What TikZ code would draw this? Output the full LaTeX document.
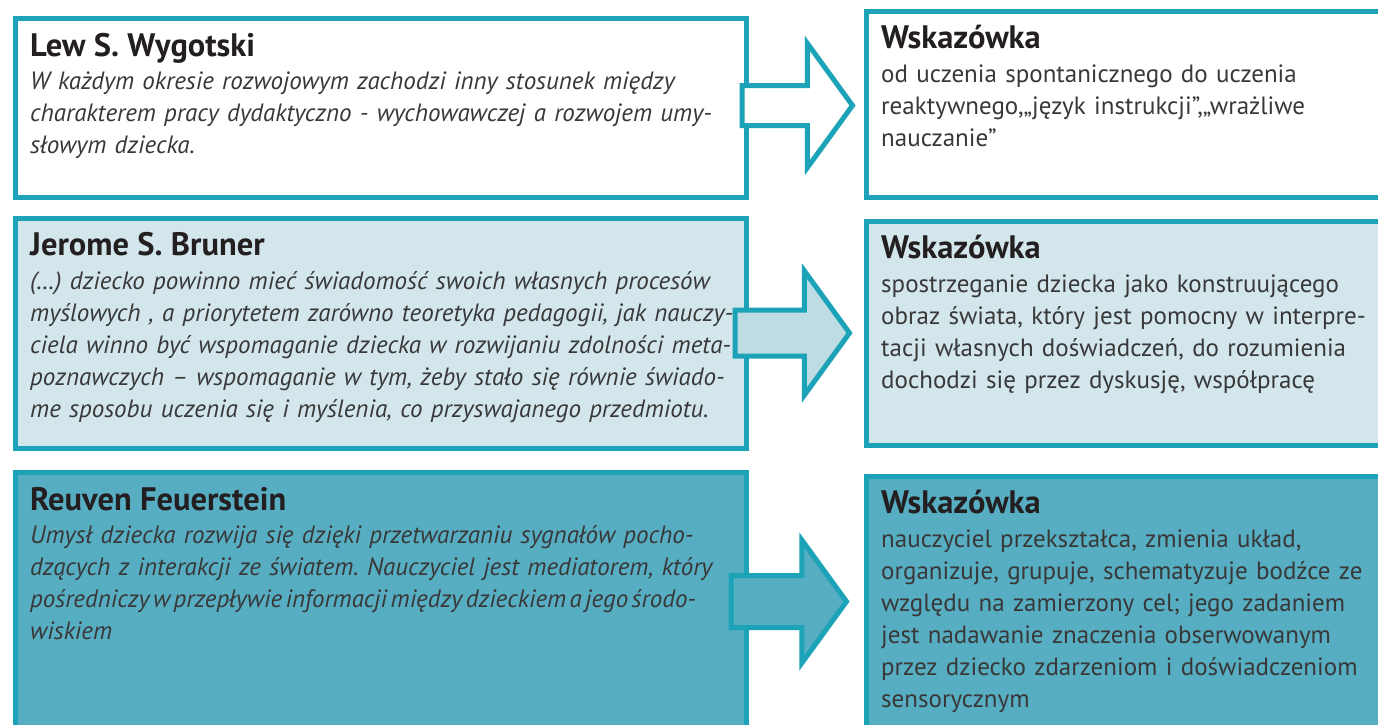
\documentclass[tikz,border=0pt]{standalone}
\usepackage{fontspec}
\setmainfont{PT Sans}
\usetikzlibrary{shapes.arrows, positioning}
\definecolor{rim}{HTML}{1DA3B8}
\definecolor{pale}{HTML}{D3E6EC}
\definecolor{paler}{HTML}{BDDCE4}
\definecolor{deep}{HTML}{57ADC2}
\definecolor{ink}{HTML}{231F20}
\definecolor{grayink}{HTML}{383838}
\newcommand{\boxhead}[1]{{\upshape\bfseries\color{ink}\fontsize{32.5}{32}\selectfont #1}}
\frenchspacing

\begin{document}
\begin{tikzpicture}[x=1pt,y=-1pt,
	box/.style={draw=rim, line width=5pt, inner sep=0pt, anchor=north west},
	txt/.style={anchor=base west, inner sep=0pt, text width=500pt, align=left, text=grayink, font=\fontsize{25}{32}\selectfont},
	quote/.style={txt, text width=720pt, font=\fontsize{25}{32}\selectfont\itshape},
	bigarrow/.style={single arrow, draw=rim, line width=5pt, inner xsep=0pt, anchor=tail, single arrow tip angle=108}]
	\fill[white] (0,0) rectangle (1378,724);
	\useasboundingbox (0,0) rectangle (1378,724);
	\clip (0,0) rectangle (1378,724);

	% boxes
	\node[box, fill=white,	minimum width=731pt, minimum height=179pt] (WYGOTSKI) 	at (12.5,15.5) {};
	\node[box, fill=white,	minimum width=540pt, minimum height=186pt] (HINT_1) 	at (863.5,8.5) {};
	\node[box, fill=pale,	minimum width=731pt, minimum height=230pt] (BRUNER) 	at (12.5,215.5) {};
	\node[box, fill=pale,	minimum width=540pt, minimum height=224pt] (HINT_2) 	at (863.5,218.5) {};
	\node[box, fill=deep,	minimum width=731pt, minimum height=259pt] (FEUERSTEIN) at (12.5,469.5) {};
	\node[box, fill=deep,	minimum width=540pt, minimum height=280pt] (HINT_3) 	at (863.5,473.5) {};

	% texts
	\node[quote] (WYGOTSKI_TXT) at ([shift={(17.5pt,-41pt)}]WYGOTSKI.north west)
		{\boxhead{Lew S. Wygotski}\\[1pt]
		W każdym okresie rozwojowym zachodzi inny stosunek między\\
		charakterem pracy dydaktyczno - wychowawczej a rozwojem umy-\\
		słowym dziecka.};
	\node[txt] (HINT_1_TXT) at ([shift={(17.5pt,-40pt)}]HINT_1.north west)
		{\boxhead{Wskazówka}\\[2pt]
		od uczenia spontanicznego do uczenia\\
		reaktywnego,„język instrukcji”,„wrażliwe\\
		nauczanie”};
	\node[quote] (BRUNER_TXT) at ([shift={(17.5pt,-40pt)}]BRUNER.north west)
		{\boxhead{Jerome S. Bruner}\\[2pt]
		(…) dziecko powinno mieć świadomość swoich własnych procesów\\
		myślowych , a priorytetem zarówno teoretyka pedagogii, jak nauczy-\\
		ciela winno być wspomaganie dziecka w rozwijaniu zdolności meta-\\
		poznawczych – wspomaganie w tym, żeby stało się równie świado-\\
		me sposobu uczenia się i myślenia, co przyswajanego przedmiotu.};
	\node[txt] (HINT_2_TXT) at ([shift={(17.5pt,-40pt)}]HINT_2.north west)
		{\boxhead{Wskazówka}\\[2pt]
		spostrzeganie dziecka jako konstruującego\\
		obraz świata, który jest pomocny w interpre-\\
		tacji własnych doświadczeń, do rozumienia\\
		dochodzi się przez dyskusję, współpracę};
	\node[quote] (FEUERSTEIN_TXT) at ([shift={(17.5pt,-41pt)}]FEUERSTEIN.north west)
		{\boxhead{Reuven Feuerstein}\\[1pt]
		Umysł dziecka rozwija się dzięki przetwarzaniu sygnałów pocho-\\
		dzących z interakcji ze światem. Nauczyciel jest mediatorem, który\\
		{\spaceskip=0.14em\relax pośredniczy w przepływie informacji między dzieckiem a jego środo-}\\
		wiskiem};
	\node[txt] (HINT_3_TXT) at ([shift={(17.5pt,-40pt)}]HINT_3.north west)
		{\boxhead{Wskazówka}\\[2pt]
		nauczyciel przekształca, zmienia układ,\\
		organizuje, grupuje, schematyzuje bodźce ze\\
		względu na zamierzony cel; jego zadaniem\\
		jest nadawanie znaczenia obserwowanym\\
		przez dziecko zdarzeniom i doświadczeniom\\
		sensorycznym};

	% arrows
	\node[bigarrow, fill=white, inner ysep=17.5pt, single arrow head extend=42pt, minimum height=110.5pt] (ARROW_1) at ([xshift=-9pt,yshift=2pt]WYGOTSKI.east) {};
	\node[bigarrow, fill=paler, inner ysep=20.5pt, single arrow head extend=39pt, minimum height=114.5pt] (ARROW_2) at ([xshift=-16pt]BRUNER.east) {};
	\node[bigarrow, fill=deep, inner ysep=23.5pt, single arrow head extend=35.5pt, minimum height=115.5pt] (ARROW_3) at ([xshift=-20pt]FEUERSTEIN.east) {};
\end{tikzpicture}
\end{document}
